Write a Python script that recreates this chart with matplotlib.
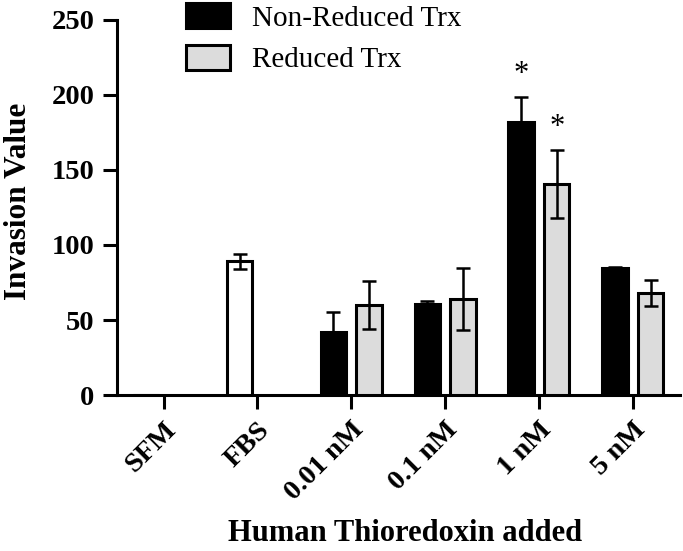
import matplotlib
matplotlib.use('Agg')
import matplotlib.pyplot as plt
import matplotlib.transforms as mtransforms
import numpy as np

plt.rcParams['font.family'] = ['Liberation Serif', 'DejaVu Serif']

# данные
categories = ['SFM', 'FBS', '0.01 nM', '0.1 nM', '1 nM', '5 nM']
control_vals = [0, 89]
control_err = [0, 5]
nonred_vals = [42, 60.5, 182, 84.5]
nonred_err = [13.5, 2.3, 16.6, 0.5]
red_vals = [60, 64, 140.5, 68]
red_err = [15.7, 20.5, 22.8, 8.6]
star_cats = ['1 nM']

fig = plt.figure(figsize=(6.83, 5.51), dpi=100)
ax = fig.add_axes([0.171, 0.283, 0.824, 0.681])

x = np.arange(len(categories))
off = 0.19
w = 0.27
lw = 2.2
err_kw = dict(ecolor='black', elinewidth=1.8, capsize=5, capthick=1.8)

ax.bar(x[:2] - off, control_vals, w, yerr=control_err, color='white',
       edgecolor='black', linewidth=lw, error_kw=err_kw, zorder=3)
ax.bar(x[2:] - off, nonred_vals, w, yerr=nonred_err, color='black',
       edgecolor='black', linewidth=lw, error_kw=err_kw, zorder=3,
       label='Non-Reduced Trx')
ax.bar(x[2:] + off, red_vals, w, yerr=red_err, color='#dcdcdc',
       edgecolor='black', linewidth=lw, error_kw=err_kw, zorder=3,
       label='Reduced Trx')

# звёздочки значимости
for c in star_cats:
    i = categories.index(c)
    j = i - 2
    for xx, top in [(x[i] - off, nonred_vals[j] + nonred_err[j]),
                    (x[i] + off, red_vals[j] + red_err[j])]:
        ax.annotate('*', (xx, top), xytext=(0, 16), textcoords='offset points',
                    ha='center', va='center', fontsize=22)

ax.set_xlim(-0.5, 5.5)
ax.set_ylim(0, 250)
ax.set_yticks([0, 50, 100, 150, 200, 250])
ax.set_xticks(x)
ax.set_xticklabels(categories, rotation=45, ha='right', rotation_mode='anchor',
                   fontsize=20.5, fontweight='bold')
shift = mtransforms.ScaledTranslation(-2 / 100, 0, fig.dpi_scale_trans)
for lab in ax.get_xticklabels():
    lab.set_transform(lab.get_transform() + shift)
for lab in ax.get_yticklabels():
    lab.set_fontsize(20.5)
    lab.set_fontweight('bold')

for s in ['top', 'right']:
    ax.spines[s].set_visible(False)
for s in ['left', 'bottom']:
    ax.spines[s].set_linewidth(lw)
ax.tick_params(axis='both', width=lw, length=10, direction='out')
ax.tick_params(axis='y', pad=6)
ax.tick_params(axis='x', pad=6)

ax.set_ylabel('Invasion Value', fontsize=22.5, fontweight='bold')
ax.yaxis.set_label_coords(-0.149, 0.517)
ax.set_xlabel('Human Thioredoxin added', fontsize=22, fontweight='bold')
ax.xaxis.set_label_coords(0.513, -0.33)

fig.legend(loc='upper left', bbox_to_anchor=(183 / 683, 1.0), frameon=False,
           fontsize=21, handlelength=1.5, handleheight=0.95, handletextpad=0.75,
           labelspacing=0.45, borderpad=0.1, borderaxespad=0)

fig.savefig('out.png', dpi=100)
